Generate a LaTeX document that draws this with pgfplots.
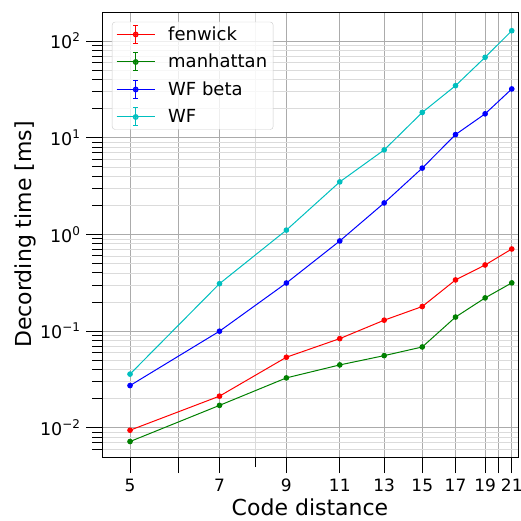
\documentclass[border=0pt]{standalone}
\usepackage{fontspec}
\setmainfont{DejaVu Sans}
\usepackage{pgfplots}
\pgfplotsset{compat=1.18}
\definecolor{mplgreen}{rgb}{0,0.5,0}
\definecolor{mplcyan}{rgb}{0,0.75,0.75}
\newcommand{\tens}[1]{10\raisebox{0.4em}{\fontsize{12}{13}\selectfont #1}}
\begin{document}
\fontsize{17.5}{20}\selectfont
\begin{tikzpicture}
\begin{axis}[
  xmode=log, ymode=log,
  scale only axis, width=416pt, height=445pt,
  xmin=4.5, xmax=21.5, ymin=0.005, ymax=200,
  xtick={5,6,7,9,11,13,15,17,19,20,21},
  xticklabels={5,,7,9,11,13,15,17,19,,21},
  minor xtick={8},
  ytick={0.01,0.1,1,10,100},
  yticklabels={\tens{−2},\tens{−1},\tens{0},\tens{1},\tens{2}},
  minor ytick={0.006,0.007,0.008,0.009,0.02,0.03,0.04,0.05,0.06,0.07,0.08,0.09,0.2,0.3,0.4,0.5,0.6,0.7,0.8,0.9,2,3,4,5,6,7,8,9,20,30,40,50,60,70,80,90},
  xtick pos=bottom, ytick pos=left,
  tick align=outside,
  major tick length=16pt, minor tick length=10pt,
  every tick/.style={black, line width=1pt},
  axis line style={line width=1pt},
  grid=both,
  major grid style={black!33, line width=0.8pt},
  minor grid style={black!14, line width=0.8pt},
  xlabel={Code distance}, ylabel={Decording time [ms]},
  label style={font=\fontsize{22}{26}\selectfont},
  xlabel style={at={(rel axis cs:0.5,0)}, anchor=base, yshift=-58.5pt},
  ylabel style={at={(rel axis cs:0,0.5)}, anchor=center, yshift=77pt},
  yticklabel style={font=\fontsize{17.5}{20}\selectfont},
  xticklabel style={font=\fontsize{17}{20}\selectfont},
  legend cell align=left,
  legend style={at={(0.024,0.978)}, anchor=north west, draw=black!20, rounded corners=3pt,
    fill=white, fill opacity=0.8, text opacity=1, font=\fontsize{18}{21}\selectfont,
    row sep=8.5pt, inner xsep=4pt, inner ysep=3pt,
    nodes={inner xsep=2pt, inner ysep=1pt},
    /tikz/every odd column/.append style={column sep=11pt}},
  legend image code/.code={
    \draw[#1] (0pt,0pt) -- (38pt,0pt);
    \draw[#1] (19pt,-9pt) -- (19pt,9pt);
    \draw[#1] (16.5pt,9pt) -- (21.5pt,9pt) (16.5pt,-9pt) -- (21.5pt,-9pt);
    \fill[#1] (19pt,0pt) circle (2.4pt);
  },
  every axis plot/.append style={line width=1pt, mark=*, mark size=2.3pt},
]
\addplot[red, mark options={fill=red}] coordinates {
 (5,0.00946) (7,0.0213) (9,0.0538) (11,0.0838) (13,0.130) (15,0.180) (17,0.339) (19,0.484) (21,0.708)};
\addlegendentry{fenwick}
\addplot[mplgreen, mark options={fill=mplgreen}] coordinates {
 (5,0.00723) (7,0.0171) (9,0.0329) (11,0.0448) (13,0.0559) (15,0.0687) (17,0.140) (19,0.221) (21,0.316)};
\addlegendentry{manhattan}
\addplot[blue, mark options={fill=blue}] coordinates {
 (5,0.0274) (7,0.100) (9,0.315) (11,0.857) (13,2.12) (15,4.86) (17,10.8) (19,17.7) (21,32.0)};
\addlegendentry{WF beta}
\addplot[mplcyan, mark options={fill=mplcyan}] coordinates {
 (5,0.036) (7,0.31) (9,1.11) (11,3.5) (13,7.5) (15,18.3) (17,34.6) (19,68) (21,128)};
\addlegendentry{WF}
\end{axis}
\pgfresetboundingbox
\path (current axis.south west) ++(-102pt,-63pt) rectangle ++(521pt,520pt);
\end{tikzpicture}
\end{document}
